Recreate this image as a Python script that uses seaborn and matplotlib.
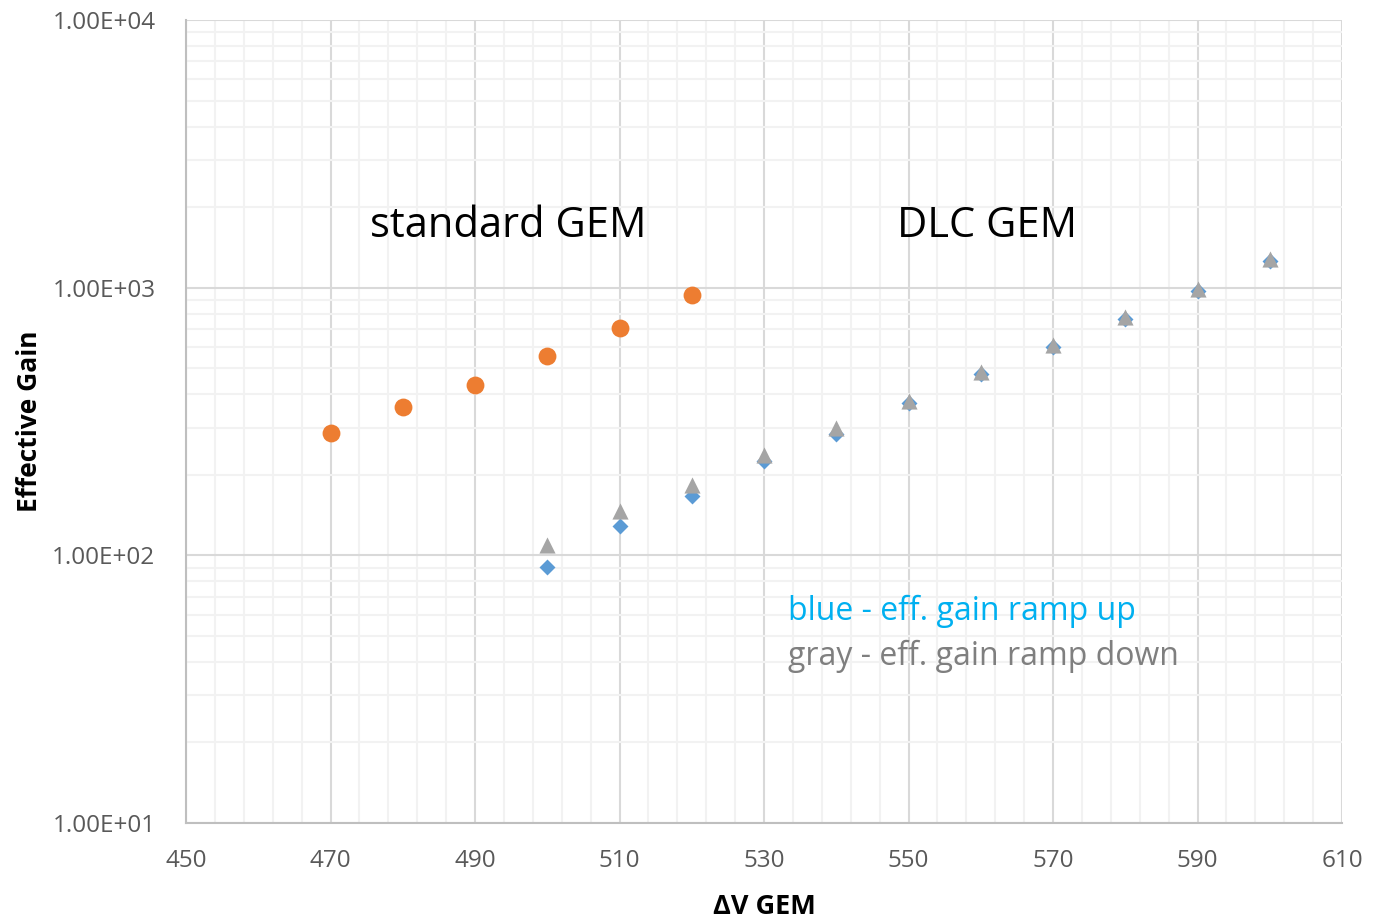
import numpy as np
import matplotlib
matplotlib.use("Agg")
import matplotlib.pyplot as plt
from matplotlib.ticker import FixedLocator, FixedFormatter, NullFormatter
import seaborn as sns

# Standard GEM effective gain
std_voltage = [470, 480, 490, 500, 510, 520]
std_gain = [286, 358, 433, 555, 706, 938]

# DLC GEM, ramping the voltage up
dlc_voltage = [500, 510, 520, 530, 540, 550, 560, 570, 580, 590, 600]
dlc_gain_up = [90.4, 128.6, 166.5, 225, 284, 371, 475, 600, 763, 975, 1257]

# DLC GEM, ramping the voltage down
dlc_gain_down = [109.7, 146.4, 183, 237, 299, 377, 484, 611, 777, 988, 1275]

x_ticks = [450, 470, 490, 510, 530, 550, 570, 590, 610]
y_ticks = [10, 100, 1000, 10000]
y_tick_labels = ["1.00E+01", "1.00E+02", "1.00E+03", "1.00E+04"]

sns.set_theme(style="white")
plt.rcParams["font.family"] = ["Open Sans", "DejaVu Sans"]

fig = plt.figure(figsize=(13.86, 9.18), dpi=100)
ax = fig.add_axes([0.1342, 0.1035, 0.8341, 0.8747])

ORANGE = "#ED7D31"
BLUE = "#5B9BD5"
GRAY = "#A5A5A5"

sns.scatterplot(x=std_voltage, y=std_gain, ax=ax, marker="o", s=165,
                color=ORANGE, linewidth=0, zorder=3)
sns.scatterplot(x=dlc_voltage, y=dlc_gain_up, ax=ax, marker="D", s=66,
                color=BLUE, linewidth=0, zorder=3)
sns.scatterplot(x=dlc_voltage, y=dlc_gain_down, ax=ax, marker="^", s=135,
                color=GRAY, linewidth=0, zorder=4)

ax.set_yscale("log")
ax.set_xlim(450, 610)
ax.set_ylim(10, 10000)

ax.xaxis.set_major_locator(FixedLocator(x_ticks))
ax.xaxis.set_minor_locator(FixedLocator(np.arange(450, 611, 4)))
ax.yaxis.set_major_locator(FixedLocator(y_ticks))
ax.yaxis.set_major_formatter(FixedFormatter(y_tick_labels))
minor_y = [m * d for d in (10, 100, 1000) for m in range(2, 10)]
ax.yaxis.set_minor_locator(FixedLocator(minor_y))
ax.yaxis.set_minor_formatter(NullFormatter())

ax.grid(which="major", color="#D9D9D9", linewidth=1.5, zorder=1)
ax.grid(which="minor", color="#F2F2F2", linewidth=1.5, zorder=0)
ax.set_axisbelow(True)

for side in ("top", "right"):
    ax.spines[side].set_visible(False)
for side in ("left", "bottom"):
    ax.spines[side].set_color("#BFBFBF")
    ax.spines[side].set_linewidth(1.5)

ax.tick_params(which="both", length=0)
ax.tick_params(axis="x", pad=19, labelsize=17.5, labelcolor="#595959")
ax.tick_params(axis="y", pad=22, labelsize=17.5, labelcolor="#595959")

ax.set_xlabel("ΔV GEM", fontsize=19.5, fontweight="bold", color="black")
ax.set_ylabel("Effective Gain", fontsize=19, fontweight="bold", color="black")
ax.xaxis.set_label_coords(0.5, -0.088)
ax.yaxis.set_label_coords(-0.124, 0.5)

ax.text(0.1592, 0.7434, "standard GEM", transform=ax.transAxes,
        fontsize=30, color="black", va="center", ha="left")
ax.text(0.6151, 0.7434, "DLC GEM", transform=ax.transAxes,
        fontsize=30, color="black", va="center", ha="left")
ax.text(0.5208, 0.2640, "blue - eff. gain ramp up", transform=ax.transAxes,
        fontsize=23, color="#00B0F0", va="center", ha="left")
ax.text(0.5208, 0.2079, "gray - eff. gain ramp down", transform=ax.transAxes,
        fontsize=23, color="#7F7F7F", va="center", ha="left")

fig.savefig("out.png", dpi=100, facecolor="white")
